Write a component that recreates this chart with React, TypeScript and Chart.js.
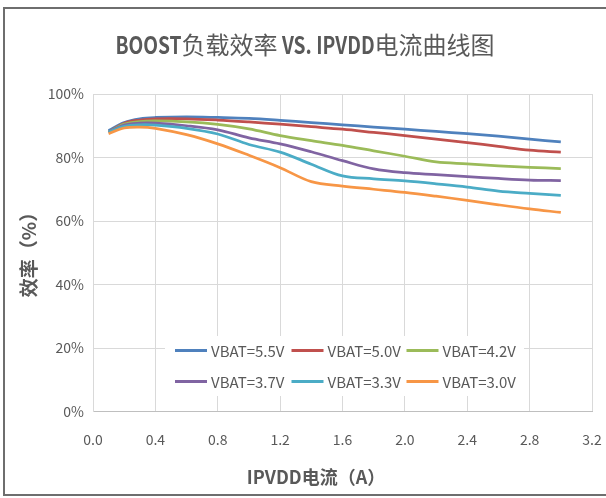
import React, { useEffect, useRef } from 'react';
import { Chart, registerables } from 'chart.js';

Chart.register(...registerables);

const TITLE_PARTS: [string, boolean][] = [
  ['BOOST', true],
  ['负载效率', false],
  [' VS. IPVDD', true],
  ['电流曲线图', false],
];
const X_TITLE = 'IPVDD电流（A）';
const Y_TITLE = '效率（%）';

const currents = [0.1, 0.2, 0.3, 0.4, 0.6, 0.8, 1.0, 1.2, 1.4, 1.6, 1.8, 2.0, 2.2, 2.4, 2.6, 2.8, 3.0];
const seriesNames = ['VBAT=5.5V', 'VBAT=5.0V', 'VBAT=4.2V', 'VBAT=3.7V', 'VBAT=3.3V', 'VBAT=3.0V'];
const vbat55 = [88.5, 91, 92.2, 92.6, 92.8, 92.6, 92.3, 91.7, 91, 90.3, 89.6, 88.9, 88.2, 87.5, 86.7, 85.8, 84.9];
const vbat50 = [88, 90.8, 91.8, 92.2, 92.2, 91.8, 91.2, 90.5, 89.7, 88.9, 87.9, 86.9, 85.8, 84.7, 83.5, 82.3, 81.7];
const vbat42 = [88, 90.5, 91.3, 91.5, 91.2, 90.4, 89, 86.9, 85.3, 83.8, 82.1, 80.4, 78.6, 78, 77.4, 76.9, 76.5];
const vbat37 = [88, 90.2, 90.8, 90.8, 90, 88.7, 86.2, 84.3, 81.8, 79, 76.4, 75.2, 74.6, 74, 73.4, 72.9, 72.7];
const vbat33 = [88, 89.8, 90.3, 90.2, 89.2, 87.4, 84.1, 81.7, 77.9, 74.2, 73.3, 72.6, 71.7, 70.7, 69.4, 68.7, 68.1];
const vbat30 = [87.5, 89.3, 89.6, 89.2, 87.2, 84.3, 80.7, 76.8, 72.4, 71, 70, 69, 67.8, 66.5, 65.1, 63.8, 62.7];
const seriesValues = [vbat55, vbat50, vbat42, vbat37, vbat33, vbat30];
const seriesColors = ['#4F81BD', '#C0504D', '#9BBB59', '#8064A2', '#4BACC6', '#F79646'];

const X_MIN = 0;
const X_MAX = 3.2;
const X_STEP = 0.4;
const Y_MIN = 0;
const Y_MAX = 100;
const Y_STEP = 20;

const CJK = "'Noto Sans CJK SC', sans-serif";
const TEXT = '#595959';

const W = 606;
const H = 498;

const decorPlugin = {
  id: 'decor',
  afterDraw(chart: any) {
    const ctx = chart.ctx as CanvasRenderingContext2D;
    ctx.save();
    // outer frame
    ctx.strokeStyle = '#6e6e6e';
    ctx.lineWidth = 2;
    ctx.beginPath();
    ctx.moveTo(W + 2, 8);
    ctx.lineTo(4, 8);
    ctx.lineTo(4, 495);
    ctx.lineTo(W + 2, 495);
    ctx.stroke();

    // title (Latin parts drawn condensed)
    ctx.fillStyle = TEXT;
    ctx.textBaseline = 'middle';
    ctx.textAlign = 'left';
    const LATIN_SX = 0.8;
    const fontFor = (latin: boolean) => (latin ? `bold 24px ${CJK}` : `normal 24px ${CJK}`);
    let total = 0;
    for (const [t, latin] of TITLE_PARTS) {
      ctx.font = fontFor(latin);
      total += ctx.measureText(t).width * (latin ? LATIN_SX : 1);
    }
    let tx = 305 - total / 2;
    for (const [t, latin] of TITLE_PARTS) {
      ctx.font = fontFor(latin);
      const w = ctx.measureText(t).width;
      if (latin) {
        ctx.save();
        ctx.translate(tx, 45);
        ctx.scale(LATIN_SX, 1);
        ctx.fillText(t, 0, 0);
        ctx.restore();
        tx += w * LATIN_SX;
      } else {
        ctx.fillText(t, tx, 45);
        tx += w;
      }
    }

    // x title
    ctx.font = `bold 18px ${CJK}`;
    ctx.textAlign = 'center';
    ctx.fillText(X_TITLE, 316, 477);

    // y title
    ctx.save();
    ctx.translate(29, 250);
    ctx.rotate(-Math.PI / 2);
    ctx.font = `bold 19px ${CJK}`;
    ctx.textAlign = 'center';
    ctx.fillText(Y_TITLE, 0, 0);
    ctx.restore();

    // legend box inside plot
    ctx.fillStyle = '#ffffff';
    ctx.fillRect(165, 336, 359, 60);
    const cols = [175, 291.5, 406.5];
    const rows = [350.5, 381.5];
    ctx.font = `15px ${CJK}`;
    ctx.textAlign = 'left';
    ctx.textBaseline = 'middle';
    seriesNames.forEach((name, i) => {
      const cx = cols[i % 3];
      const cy = rows[Math.floor(i / 3)];
      ctx.strokeStyle = seriesColors[i];
      ctx.lineWidth = 3;
      ctx.beginPath();
      ctx.moveTo(cx, cy);
      ctx.lineTo(cx + 32, cy);
      ctx.stroke();
      ctx.fillStyle = TEXT;
      ctx.fillText(name, cx + 36, cy + 1);
    });
    ctx.restore();
  },
};

export default function App() {
  const ref = useRef<HTMLCanvasElement>(null);
  useEffect(() => {
    document.body.style.margin = '0';
    const canvas = ref.current!;
    const chart = new Chart(canvas, {
      type: 'line',
      data: {
        datasets: seriesValues.map((vals, i) => ({
          label: seriesNames[i],
          data: currents.map((x, j) => ({ x, y: vals[j] })),
          borderColor: seriesColors[i],
          backgroundColor: seriesColors[i],
          borderWidth: 2.75,
          pointRadius: 0,
          tension: 0.35,
          fill: false,
          order: seriesValues.length - i,
        })),
      },
      options: {
        responsive: false,
        animation: false,
        devicePixelRatio: 1,
        layout: { padding: { top: 94, right: 14, bottom: 0, left: 0 } },
        plugins: {
          legend: { display: false },
          title: { display: false },
          tooltip: { enabled: false },
        },
        scales: {
          x: {
            type: 'linear',
            min: X_MIN,
            max: X_MAX,
            ticks: {
              stepSize: X_STEP,
              callback: (v: any) => Number(v).toFixed(1),
              color: TEXT,
              font: { family: CJK, size: 14 },
              padding: 20,
              maxRotation: 0,
              autoSkip: false,
            },
            grid: { color: '#d9d9d9', drawTicks: false, lineWidth: 1 },
            border: { color: '#bfbfbf' },
            afterFit: (s: any) => {
              s.height = H - 411.5;
              s.paddingLeft = 0;
              s.paddingRight = 0;
            },
          },
          y: {
            min: Y_MIN,
            max: Y_MAX,
            ticks: {
              stepSize: Y_STEP,
              callback: (v: any) => `${v}%`,
              color: TEXT,
              font: { family: CJK, size: 14 },
              padding: 9,
            },
            grid: { color: '#d9d9d9', drawTicks: false, lineWidth: 1 },
            border: { color: '#d9d9d9' },
            afterFit: (s: any) => {
              s.width = 93;
              s.paddingTop = 0;
              s.paddingBottom = 0;
            },
          },
        },
      },
      plugins: [decorPlugin],
    });
    return () => chart.destroy();
  }, []);
  return (
    <div style={{ position: 'absolute', left: 0, top: 0, width: W, height: H, background: '#fff' }}>
      <canvas ref={ref} width={W} height={H} style={{ display: 'block', width: W, height: H }} />
    </div>
  );
}
